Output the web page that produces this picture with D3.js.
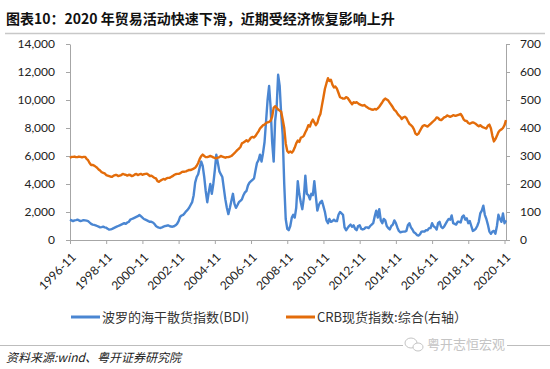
<!DOCTYPE html>
<html>
<head>
<meta charset="utf-8">
<script src="https://cdn.jsdelivr.net/npm/d3@7"></script>
<style>
  body { margin: 0; background: #fff; }
  svg { display: block; }
  .axis path, .axis line { stroke: #a6a6a6; }
  .axis text { font-family: Lato, "Open Sans", sans-serif; font-size: 12px; fill: #222; }
</style>
</head>
<body>
<div class="wrapper"></div>
<script>
// monthly data starting 1996-11
var startMonth = "1996-11";

var bdi = [
  1450, 1400,
  1350, 1400, 1420, 1450, 1400, 1350, 1380, 1420, 1400, 1380, 1350, 1250,
  1150, 1100, 1080, 1050, 1000, 950, 900, 920, 950, 900, 880, 800,
  740, 760, 800, 850, 900, 950, 1000, 1050, 1100, 1150, 1200, 1150,
  1250, 1300, 1450, 1500, 1550, 1600, 1650, 1700, 1780, 1700, 1600, 1500,
  1450, 1400, 1350, 1300, 1300, 1250, 1150, 1000, 920, 880, 860, 900,
  950, 1000, 1020, 1050, 1000, 960, 950, 980, 1050, 1150, 1350, 1650,
  1750, 1800, 1900, 2050, 2150, 2300, 2500, 2700, 3200, 4100, 4500, 4700,
  5200, 5600, 5300, 4500, 3500, 2700, 3400, 4000, 3300, 4000, 5000, 6100,
  5500, 4900, 4700, 4500, 3700, 2900, 2300, 1850, 2300, 2800, 3300, 2600,
  2300, 2500, 2700, 2800, 2900, 3200, 3400, 3500, 3900, 4100, 4200, 4300,
  4400, 5000, 5500, 5700, 6100, 5600, 6200, 7000, 8500, 10000, 11000, 9500,
  7000, 5600, 8500, 9500, 11800, 11000, 9000, 7500, 4000, 1500, 800, 700,
  1000, 1600, 1800, 1600, 2300, 4200, 3300, 2700, 2200, 3000, 4600, 3300,
  3200, 2900, 3300, 3200, 4200, 3100, 2100, 2500, 2700, 2800, 2400, 2000,
  1400, 1200, 1500, 1300, 1350, 1450, 1350, 1350, 1800, 2000, 1900, 1800,
  900, 700, 850, 1000, 1100, 950, 1050, 800, 700, 1000, 1050, 800,
  750, 800, 900, 900, 850, 1000, 1100, 1200, 1700, 2100, 1600, 2200,
  1400, 1200, 1500, 1400, 1000, 850, 750, 1000, 1100, 1400, 1200, 900,
  650, 550, 580, 600, 600, 650, 1050, 1200, 900, 750, 550, 480,
  350, 320, 400, 600, 610, 600, 700, 700, 850, 850, 1200, 980,
  900, 750, 1200, 1300, 950, 850, 950, 1150, 1350, 1500, 1450, 1750,
  1200, 1150, 1100, 1300, 1300, 1250, 1650, 1750, 1450, 1550, 1200, 1350,
  1000, 650, 700, 800, 1000, 1300, 1900, 2100, 2450, 1800, 1500, 1100,
  600, 450, 600, 650, 450, 1000, 1800, 1500, 1300, 1900, 1200, 1400
];

var crb = [
  293, 297,
  297, 298, 296, 296, 298, 297, 295, 297, 297, 290, 285, 275,
  268, 268, 266, 262, 258, 252, 248, 242, 240, 238, 232, 230,
  228, 226, 226, 230, 232, 232, 228, 230, 232, 236, 234, 233,
  230, 233, 232, 228, 230, 234, 236, 232, 234, 236, 233, 235,
  236, 237, 233, 228, 230, 226, 222, 220, 210, 208, 212, 215,
  218, 216, 220, 222, 222, 225, 228, 232, 235, 236, 236, 238,
  242, 244, 244, 245, 248, 250, 250, 252, 255, 258, 265, 275,
  290, 300, 305, 300, 296, 296, 298, 300, 298, 295, 293, 292,
  294, 296, 300, 298, 296, 294, 296, 296, 298, 300, 305, 310,
  316, 322, 326, 332, 345, 348, 352, 356, 352, 358, 366, 368,
  366, 372, 380, 388, 398, 404, 410, 412, 418, 420, 422, 426,
  440, 472, 478, 472, 466, 462, 458, 430, 400, 345, 318, 312,
  316, 312, 318, 330, 345, 355, 350, 365, 368, 372, 385, 395,
  410, 405, 420, 430, 420, 410, 418, 438, 450, 480, 510, 540,
  560, 578, 568, 572, 555, 545, 548, 540, 525, 510, 508, 505,
  505, 510, 508, 500, 492, 485, 492, 490, 492, 488, 484, 482,
  480, 482, 478, 474, 470, 468, 466, 465, 468, 466, 470, 476,
  484, 492, 500, 505, 502, 498, 490, 482, 474, 465, 460, 452,
  445, 440, 432, 438, 440, 436, 425, 415, 410, 405, 395, 380,
  376, 380, 390, 400, 408, 410, 408, 405, 410, 415, 420, 425,
  430, 438, 436, 430, 428, 432, 438, 440, 445, 442, 440, 442,
  446, 444, 444, 446, 448, 450, 442, 430, 426, 425, 418, 415,
  418, 420, 418, 415, 410, 406, 410, 405, 402, 400, 398, 408,
  412, 398, 372, 352, 360, 372, 385, 392, 395, 400, 410, 428
];

var xTickLabels = ["1996-11", "1998-11", "2000-11", "2002-11", "2004-11", "2006-11",
  "2008-11", "2010-11", "2012-11", "2014-11", "2016-11", "2018-11", "2020-11"];
var leftTicks = [0, 2000, 4000, 6000, 8000, 10000, 12000, 14000];
var rightTicks = [0, 100, 200, 300, 400, 500, 600, 700];
var seriesNames = ["波罗的海干散货指数(BDI)", "CRB现货指数:综合(右轴）"];
var colors = ["#4a86d2", "#e36c0a"];

var width = 550, height = 369;
var parseMonth = d3.timeParse("%Y-%m");
var start = parseMonth(startMonth);

var svg = d3.select(".wrapper").append("svg")
  .attr("width", width)
  .attr("height", height);

// title
svg.append("text")
  .attr("x", 6)
  .attr("y", 24)
  .attr("font-family", "'Noto Sans CJK SC', sans-serif")
  .attr("font-weight", "bold")
  .attr("font-size", 14)
  .attr("fill", "#111")
  .text("图表10：2020 年贸易活动快速下滑，近期受经济恢复影响上升");
svg.append("line")
  .attr("x1", 5).attr("x2", 545)
  .attr("y1", 33.5).attr("y2", 33.5)
  .attr("stroke", "#c8c8c8").attr("stroke-width", 1.5);

var x = d3.scaleTime()
  .domain([start, parseMonth("2020-12")])
  .range([70, 506]);
var yL = d3.scaleLinear().domain([0, 14000]).range([240, 44]);
var yR = d3.scaleLinear().domain([0, 700]).range([240, 44]);

function rows(values) {
  return values.map(function(v, i) { return {date: d3.timeMonth.offset(start, i), value: v}; });
}

svg.append("g")
  .attr("class", "axis")
  .attr("transform", "translate(70,0)")
  .call(d3.axisLeft(yL).tickValues(leftTicks).tickFormat(d3.format(",")).tickSize(4).tickPadding(11).tickSizeOuter(0));

svg.append("g")
  .attr("class", "axis")
  .attr("transform", "translate(506,0)")
  .call(d3.axisRight(yR).tickValues(rightTicks).tickSize(4).tickPadding(10).tickSizeOuter(0));

var xAxis = svg.append("g")
  .attr("class", "axis")
  .attr("transform", "translate(0,240)")
  .call(d3.axisBottom(x)
    .tickValues(xTickLabels.map(parseMonth))
    .tickFormat(d3.timeFormat("%Y-%m"))
    .tickSize(4)
    .tickSizeOuter(0));
xAxis.selectAll("text")
  .attr("text-anchor", "end")
  .attr("transform", "translate(-4,8) rotate(-45)")
  .attr("dx", 0)
  .attr("dy", "0.7em")
  .attr("y", 6);

var line = d3.line()
  .x(function(d) { return x(d.date); });

svg.append("path")
  .datum(rows(bdi))
  .attr("fill", "none")
  .attr("stroke", colors[0])
  .attr("stroke-width", 2.4)
  .attr("stroke-linejoin", "round")
  .attr("d", line.y(function(d) { return yL(d.value); }));

svg.append("path")
  .datum(rows(crb))
  .attr("fill", "none")
  .attr("stroke", colors[1])
  .attr("stroke-width", 2.4)
  .attr("stroke-linejoin", "round")
  .attr("d", line.y(function(d) { return yR(d.value); }));

// legend
var legendX = [71, 286];
var legend = svg.append("g")
  .selectAll("g")
  .data(seriesNames)
  .enter().append("g")
    .attr("transform", function(d, i) { return "translate(" + legendX[i] + ",317)"; });
legend.append("line")
  .attr("x1", 0).attr("x2", 29)
  .attr("stroke", function(d, i) { return colors[i]; })
  .attr("stroke-width", 3);
legend.append("text")
  .attr("x", 31)
  .attr("dy", "0.36em")
  .attr("font-family", "'Noto Sans CJK SC', sans-serif")
  .attr("font-size", 13)
  .attr("fill", "#333")
  .text(function(d) { return d; });

// footer
svg.append("line")
  .attr("x1", 0).attr("x2", 550)
  .attr("y1", 345.5).attr("y2", 345.5)
  .attr("stroke", "#bdbdbd").attr("stroke-width", 1);
var wm = svg.append("g").attr("transform", "translate(403,344)");
wm.append("rect").attr("x", 0).attr("y", -9).attr("width", 104).attr("height", 18).attr("fill", "#fff");
wm.append("ellipse").attr("cx", 8).attr("cy", -1).attr("rx", 6).attr("ry", 5)
  .attr("fill", "#fff").attr("stroke", "#c4c4c4").attr("stroke-width", 1);
wm.append("ellipse").attr("cx", 15).attr("cy", 3).attr("rx", 5).attr("ry", 4)
  .attr("fill", "#fff").attr("stroke", "#c4c4c4").attr("stroke-width", 1);
wm.append("text")
  .attr("x", 24)
  .attr("dy", "0.36em")
  .attr("font-family", "'Noto Sans CJK SC', sans-serif")
  .attr("font-size", 13)
  .attr("fill", "#c4c4c4")
  .text("粤开志恒宏观");

svg.append("text")
  .attr("x", 6)
  .attr("y", 362)
  .attr("font-family", "'Noto Sans CJK SC', sans-serif")
  .attr("font-style", "italic")
  .attr("font-size", 12)
  .attr("fill", "#222")
  .text("资料来源:wind、粤开证券研究院");
</script>
</body>
</html>
